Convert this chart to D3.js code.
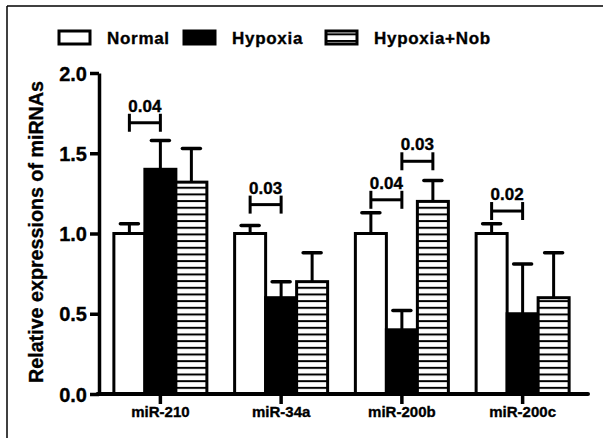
<!DOCTYPE html>
<html>
<head>
<meta charset="utf-8">
<script src="https://cdnjs.cloudflare.com/ajax/libs/d3/7.8.5/d3.min.js"></script>
<style>
body { margin: 0; background: #fff; }
svg { display: block; font-family: "Liberation Sans", Arial, sans-serif; font-weight: bold; }
svg text { stroke: black; stroke-width: 0.35px; }
</style>
</head>
<body>
<svg id="chart" width="603" height="438"></svg>
<script>
// data
const groups = ["miR-210", "miR-34a", "miR-200b", "miR-200c"];
const series = ["Normal", "Hypoxia", "Hypoxia+Nob"];
const normal_vals = [1.0, 1.0, 1.0, 1.0];
const normal_err = [0.06, 0.05, 0.13, 0.06];
const hypoxia_vals = [1.4, 0.6, 0.4, 0.5];
const hypoxia_err = [0.18, 0.1, 0.12, 0.31];
const nob_vals = [1.32, 0.7, 1.2, 0.6];
const nob_err = [0.21, 0.18, 0.13, 0.28];
const y_ticks = [0.0, 0.5, 1.0, 1.5, 2.0];

// significance brackets
const br_group = ["miR-210", "miR-34a", "miR-200b", "miR-200b", "miR-200c"];
const br_from = ["Normal", "Normal", "Normal", "Hypoxia", "Normal"];
const br_to = ["Hypoxia", "Hypoxia", "Hypoxia", "Hypoxia+Nob", "Hypoxia"];
const br_y = [1.69, 1.18, 1.21, 1.45, 1.14];
const br_label = ["0.04", "0.03", "0.04", "0.03", "0.02"];

const vals = [normal_vals, hypoxia_vals, nob_vals];
const errs = [normal_err, hypoxia_err, nob_err];

const svg = d3.select("#chart");

// hatch pattern
const defs = svg.append("defs");
const pat = defs.append("pattern")
	.attr("id", "hatch")
	.attr("patternUnits", "userSpaceOnUse")
	.attr("width", 10).attr("height", 6.67);
pat.append("rect").attr("width", 10).attr("height", 6.67).style("fill", "white");
pat.append("rect").attr("y", 0).attr("width", 10).attr("height", 2).style("fill", "black");

const fills = ["white", "black", "url(#hatch)"];

// frame lines (top and left)
svg.append("line").attr("x1", 7).attr("x2", 603).attr("y1", 6).attr("y2", 6)
	.style("stroke", "black").style("stroke-width", 1.5);
svg.append("line").attr("x1", 7).attr("x2", 7).attr("y1", 6).attr("y2", 438)
	.style("stroke", "black").style("stroke-width", 1.5);

const y = d3.scaleLinear().domain([0, 2]).range([394, 73]);
const x0 = d3.scaleBand().domain(groups).range([100, 583]);
const x1 = d3.scaleBand().domain(series).range([-46.5, 46.5]);
const cx = g => x0(g) + x0.bandwidth() / 2;
const bar_mid = (g, s) => cx(g) + x1(s) + x1.bandwidth() / 2;

// bars
const rows = [];
groups.forEach((g, gi) => series.forEach((s, si) => rows.push({g: g, s: s, si: si, v: vals[si][gi], e: errs[si][gi]})));

// error bars (drawn first, bar covers the lower part)
svg.append("g").selectAll("g").data(rows).enter().append("g").each(function(d) {
	const el = d3.select(this);
	const m = bar_mid(d.g, d.s);
	el.append("line").attr("x1", m).attr("x2", m).attr("y1", y(d.v)).attr("y2", y(d.v + d.e))
		.style("stroke", "black").style("stroke-width", 3);
	el.append("line").attr("x1", m - 9).attr("x2", m + 9).attr("y1", y(d.v + d.e)).attr("y2", y(d.v + d.e))
		.style("stroke", "black").style("stroke-width", 3.5).style("stroke-linecap", "round");
});

svg.append("g").selectAll("rect").data(rows).enter().append("rect")
	.attr("x", d => cx(d.g) + x1(d.s))
	.attr("width", x1.bandwidth())
	.attr("y", d => y(d.v))
	.attr("height", d => y(0) - y(d.v))
	.style("fill", d => fills[d.si])
	.style("stroke", "black").style("stroke-width", 3);

// y axis
const yAxis = svg.append("g").attr("transform", "translate(99,0)")
	.call(d3.axisLeft(y).tickValues(y_ticks).tickFormat(d3.format(".1f")).tickSize(9).tickSizeOuter(0));
yAxis.select(".domain").style("stroke-width", 3.5);
yAxis.selectAll(".tick line").style("stroke-width", 3.5);
yAxis.selectAll(".tick text").attr("x", -12).attr("dy", "0.36em")
	.style("font-size", "20px").style("font-family", "Liberation Sans, Arial").style("font-weight", "bold");

// x axis
svg.append("line").attr("x1", 97.5).attr("x2", 588).attr("y1", y(0)).attr("y2", y(0))
	.style("stroke", "black").style("stroke-width", 4).style("stroke-linecap", "round");
const xAxis = svg.append("g").attr("transform", `translate(0,${y(0)})`)
	.call(d3.axisBottom(x0).tickSize(10).tickSizeOuter(0));
xAxis.select(".domain").remove();
xAxis.selectAll(".tick line").style("stroke-width", 3.5);
xAxis.selectAll(".tick text").attr("y", 12).attr("dy", "0.71em")
	.style("font-size", "15px").style("font-family", "Liberation Sans, Arial").style("font-weight", "bold");

// y title
svg.append("text")
	.attr("transform", "translate(43,232) rotate(-90)")
	.attr("text-anchor", "middle")
	.style("font-size", "19.7px")
	.text("Relative expressions of miRNAs");

// brackets
br_group.forEach((g, i) => {
	const xa = bar_mid(g, br_from[i]), xb = bar_mid(g, br_to[i]), yy = y(br_y[i]);
	const b = svg.append("g").style("stroke", "black").style("stroke-width", 3);
	b.append("line").attr("x1", xa).attr("x2", xb).attr("y1", yy).attr("y2", yy);
	b.append("line").attr("x1", xa).attr("x2", xa).attr("y1", yy - 9).attr("y2", yy + 9);
	b.append("line").attr("x1", xb).attr("x2", xb).attr("y1", yy - 9).attr("y2", yy + 9);
	svg.append("text").attr("x", (xa + xb) / 2).attr("y", yy - 11)
		.attr("text-anchor", "middle").style("font-size", "17px").text(br_label[i]);
});

// legend
const leg_x = [59, 184, 326];
const leg = svg.append("g").selectAll("g").data(series).enter().append("g");
leg.append("rect")
	.attr("x", (d, i) => leg_x[i]).attr("y", 31).attr("width", 31).attr("height", 13)
	.style("fill", (d, i) => fills[i]).style("stroke", "black").style("stroke-width", 3);
leg.append("text")
	.attr("x", (d, i) => leg_x[i] + 48).attr("y", 44)
	.style("font-size", "17px").style("letter-spacing", "0.7px")
	.text(d => d);
</script>
</body>
</html>
